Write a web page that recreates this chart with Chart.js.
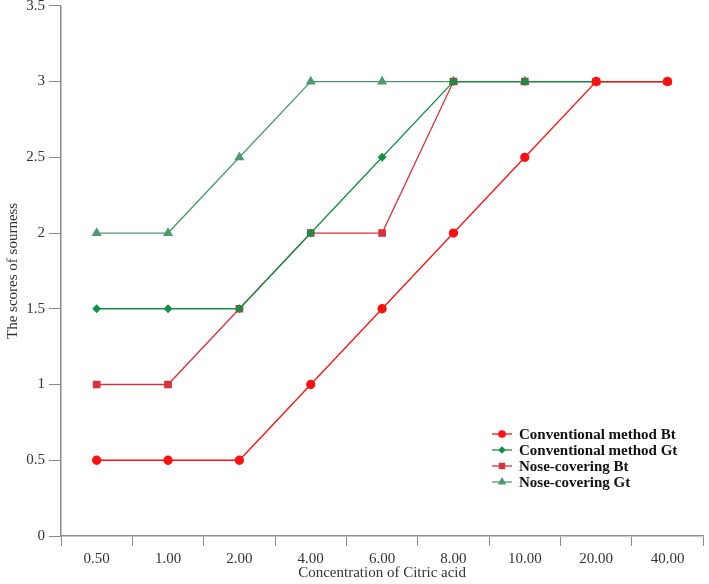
<!DOCTYPE html>
<html>
<head>
<meta charset="utf-8">
<script src="https://cdn.jsdelivr.net/npm/chart.js@4.4.0/dist/chart.umd.min.js"></script>
<style>
  html, body { margin: 0; padding: 0; background: #fff; }
  #wrap { width: 709px; height: 584px; }
</style>
</head>
<body>
<div id="wrap"><canvas id="myChart" width="709" height="584"></canvas></div>
<script>
// concentrations on the x axis
let labels = ["0.50", "1.00", "2.00", "4.00", "6.00", "8.00", "10.00", "20.00", "40.00"];

let convBt = [0.5, 0.5, 0.5, 1, 1.5, 2, 2.5, 3, 3];
let convGt = [1.5, 1.5, 1.5, 2, 2.5, 3, 3, 3, 3];
let noseBt = [1, 1, 1.5, 2, 2, 3, 3, 3, 3];
let noseGt = [2, 2, 2.5, 3, 3, 3, 3, 3, 3];

let serif = "'Liberation Serif', 'Times New Roman', serif";

// legend drawn inside the plot, bottom right
let insideLegend = {
  id: 'insideLegend',
  afterDraw(chart) {
    let ctx = chart.ctx;
    let x0 = 492, y0 = 434, row = 16;
    ctx.save();
    ctx.font = "bold 15px " + serif;
    ctx.textBaseline = 'middle';
    chart.data.datasets.forEach((ds, i) => {
      let y = y0 + i * row;
      ctx.strokeStyle = ds.borderColor;
      ctx.lineWidth = 1.3;
      ctx.beginPath();
      ctx.moveTo(x0, y);
      ctx.lineTo(x0 + 20, y);
      ctx.stroke();
      ctx.fillStyle = ds.pointBackgroundColor;
      ctx.strokeStyle = ds.pointBackgroundColor;
      Chart.helpers.drawPoint(ctx, {
        pointStyle: ds.pointStyle,
        radius: ds.pointRadius * 0.8,
        rotation: 0,
        borderWidth: 1
      }, x0 + 10, y);
      ctx.fillStyle = '#111';
      ctx.fillText(ds.label, x0 + 27, y + 1);
    });
    ctx.restore();
  }
};

let lineChart = new Chart(document.getElementById("myChart"), {
  type: 'line',
  data: {
    labels: labels,
    datasets: [
      {
        label: 'Conventional method Bt',
        data: convBt,
        borderColor: '#ff1010',
        pointBackgroundColor: '#ff1010',
        pointBorderColor: '#ff1010',
        pointStyle: 'circle',
        pointRadius: 4,
        borderWidth: 1.3
      },
      {
        label: 'Conventional method Gt',
        data: convGt,
        borderColor: '#139048',
        pointBackgroundColor: '#139048',
        pointBorderColor: '#139048',
        pointStyle: 'rectRot',
        pointRadius: 3.5,
        borderWidth: 1.3
      },
      {
        label: 'Nose-covering Bt',
        data: noseBt,
        borderColor: '#d8333a',
        pointBackgroundColor: '#d8333a',
        pointBorderColor: '#d8333a',
        pointStyle: 'rect',
        pointRadius: 4.5,
        borderWidth: 1.3
      },
      {
        label: 'Nose-covering Gt',
        data: noseGt,
        borderColor: '#4a9a6c',
        pointBackgroundColor: '#4a9a6c',
        pointBorderColor: '#4a9a6c',
        pointStyle: 'triangle',
        pointRadius: 4.5,
        borderWidth: 1.3
      }
    ]
  },
  options: {
    responsive: false,
    animation: false,
    layout: { padding: { top: 0, right: 3, left: 0, bottom: 0 } },
    plugins: {
      legend: { display: false },
      tooltip: { enabled: false }
    },
    scales: {
      x: {
        offset: true,
        grid: { display: true, drawOnChartArea: false, drawTicks: true, tickLength: 10, color: '#8a8a8a', offset: true },
        border: { color: '#8a8a8a', width: 1.5 },
        ticks: { color: '#333', font: { family: serif, size: 15 }, padding: 4, maxRotation: 0, autoSkip: false },
        title: { display: true, text: 'Concentration of Citric acid', color: '#333', font: { family: serif, size: 15 }, padding: { top: 2, bottom: 2 } },
        afterFit(scale) { scale.height = 48; }
      },
      y: {
        min: 0,
        max: 3.5,
        ticks: {
          stepSize: 0.5,
          color: '#333',
          font: { family: serif, size: 15 },
          padding: 4,
          callback: (v) => String(v)
        },
        grid: { display: true, drawOnChartArea: false, drawTicks: true, tickLength: 12, color: '#8a8a8a' },
        border: { color: '#8a8a8a', width: 1.5 },
        title: { display: true, text: 'The scores of sourness', color: '#333', font: { family: serif, size: 15 }, padding: { top: 4, bottom: 2 } },
        afterFit(scale) { scale.width = 61; scale.paddingTop = 5; }
      }
    }
  },
  plugins: [insideLegend]
});
</script>
</body>
</html>
